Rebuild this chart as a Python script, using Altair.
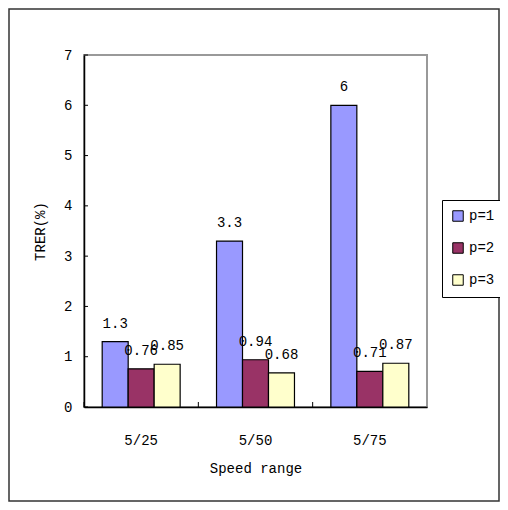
import altair as alt
import pandas as pd

categories = ["5/25", "5/50", "5/75"]
series = ["p=1", "p=2", "p=3"]
p1 = [1.3, 3.3, 6.0]
p2 = [0.76, 0.94, 0.71]
p3 = [0.85, 0.68, 0.87]
labels_p1 = ["1.3", "3.3", "6"]
labels_p2 = ["0.76", "0.94", "0.71"]
labels_p3 = ["0.85", "0.68", "0.87"]
y_ticks = [0, 1, 2, 3, 4, 5, 6, 7]
colors = ["#9999FF", "#993366", "#FFFFCC"]

rows = []
for vals, labs, s in [(p1, labels_p1, "p=1"), (p2, labels_p2, "p=2"), (p3, labels_p3, "p=3")]:
    for c, v, l in zip(categories, vals, labs):
        rows.append({"cat": c, "series": s, "value": v, "label": l})
df = pd.DataFrame(rows)

FONT = "Liberation Mono"
W, H = 343, 352
PL, PT = 76, 47
TOTW, TOTH = 492, 494

xscale = alt.Scale(domain=categories, paddingInner=0, paddingOuter=0)
xoff = alt.Scale(domain=series, paddingInner=0, paddingOuter=0.7)
yscale = alt.Scale(domain=[0, 7], nice=False)

base = alt.Chart(df)

bars = base.mark_bar(stroke="black", strokeWidth=1.2).encode(
    x=alt.X("cat:N", scale=xscale, sort=categories,
            axis=alt.Axis(title="Speed range", labelAngle=0, ticks=False,
                          labelPadding=26, titlePadding=14, labelFontSize=14,
                          titleFontSize=14, labelFont=FONT, titleFont=FONT,
                          titleFontWeight="normal", domainColor="black",
                          labelColor="black", titleColor="black")),
    xOffset=alt.XOffset("series:N", scale=xoff, sort=series),
    y=alt.Y("value:Q", scale=yscale,
            axis=alt.Axis(title="TRER(%)", values=y_ticks, format="d", ticks=False,
                          grid=False, labelPadding=12, titlePadding=16,
                          labelFontSize=14, titleFontSize=14, labelFont=FONT,
                          titleFont=FONT, titleFontWeight="normal",
                          domainColor="black", labelColor="black",
                          titleColor="black")),
    color=alt.Color("series:N", scale=alt.Scale(domain=series, range=colors),
                    legend=alt.Legend(title=None, orient="none", legendX=358,
                                      legendY=145, symbolType="square",
                                      symbolSize=110, symbolStrokeColor="black",
                                      symbolStrokeWidth=1, labelFont=FONT,
                                      labelFontSize=14, rowPadding=16,
                                      strokeColor="black", padding=9,
                                      fillColor="white", labelColor="black")),
)

text = base.mark_text(baseline="alphabetic", dy=-14, font=FONT, fontSize=14, color="black").encode(
    x=alt.X("cat:N", scale=xscale, sort=categories),
    xOffset=alt.XOffset("series:N", scale=xoff, sort=series),
    y=alt.Y("value:Q", scale=yscale),
    text="label:N",
)

ytick_df = pd.DataFrame({"v": y_ticks})
yticks = alt.Chart(ytick_df).mark_rule(color="black").encode(
    y=alt.Y("v:Q", scale=yscale),
    x=alt.value(0),
    x2=alt.value(4),
)

xtick_df = pd.DataFrame({"cat": categories})
xticks = alt.Chart(xtick_df).mark_rule(color="black").encode(
    x=alt.X("cat:N", scale=xscale, sort=categories, bandPosition=0),
    y=alt.value(H),
    y2=alt.value(H - 5),
)

frame = alt.Chart(pd.DataFrame({"a": [0]})).mark_rect(
    fill=None, stroke="#333333", strokeWidth=1.5
).encode(
    x=alt.value(-PL + 1),
    x2=alt.value(TOTW - PL - 1),
    y=alt.value(-PT + 1),
    y2=alt.value(TOTH - PT - 1),
)

chart = alt.layer(frame, bars, text, yticks, xticks).properties(
    width=W, height=H,
    padding={"left": PL, "top": PT, "right": TOTW - PL - W, "bottom": TOTH - PT - H},
    autosize=alt.AutoSizeParams(type="none"),
).configure_view(
    stroke="#999999", strokeWidth=2
).configure_axis(
    domainWidth=1.5
)

chart.save("out.html", embed_options={"renderer": "svg", "actions": False})
